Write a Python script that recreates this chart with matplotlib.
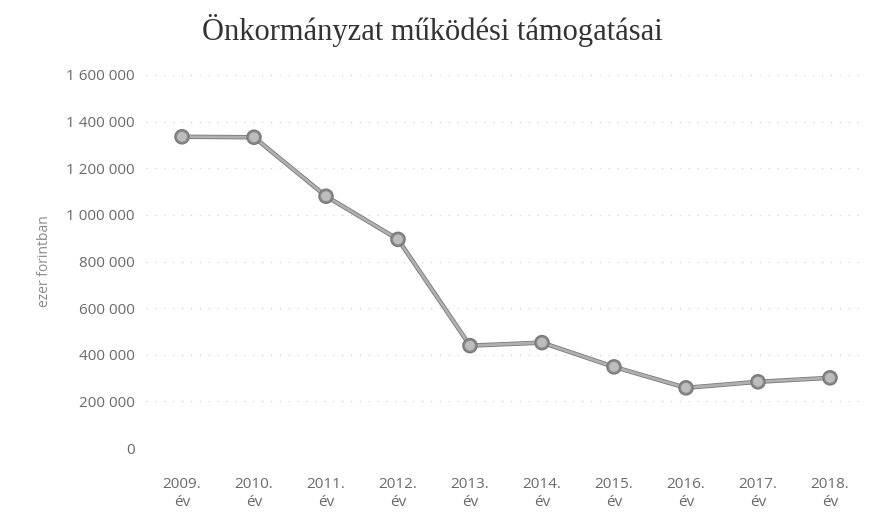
import numpy as np
import matplotlib.pyplot as plt
import matplotlib.patheffects as pe

# data
years = ["2009.", "2010.", "2011.", "2012.", "2013.", "2014.", "2015.", "2016.", "2017.", "2018."]
values = [1335000, 1333000, 1080000, 895000, 439000, 452000, 348000, 258000, 284000, 301000]
y_ticks = [0, 200000, 400000, 600000, 800000, 1000000, 1200000, 1400000, 1600000]

title = "Önkormányzat működési támogatásai"
y_label = "ezer forintban"


def fmt(v):
    # hungarian style thousands separator (space)
    return "{:,}".format(v).replace(",", " ")


fig = plt.figure(figsize=(8.92, 5.14), dpi=100)
ax = fig.add_axes([146 / 892, 66 / 514, 720 / 892, 373 / 514])

x = np.arange(len(years))
ax.plot(x, values, color="#b0b0b0", lw=2.0, marker="o", markersize=8,
        markerfacecolor="#bdbdbd", markeredgecolor="#8c8c8c", markeredgewidth=1.0,
        path_effects=[pe.Stroke(linewidth=3.2, foreground="#7a7a7a"), pe.Normal()],
        zorder=3)

ax.set_xlim(-0.5, len(years) - 0.5)
ax.set_ylim(0, 1600000)
ax.set_xticks(x)
ax.set_xticklabels([y + "\név" for y in years], fontsize=11, color="#6a6a6a",
                   family="Open Sans", linespacing=1.25)
ax.set_yticks(y_ticks)
ax.set_yticklabels([fmt(v) for v in y_ticks], fontsize=11, color="#6a6a6a",
                   family="Open Sans")
ax.tick_params(length=0, pad=8)
ax.tick_params(axis="x", pad=21)

# faint dotted gridlines
ax.grid(axis="y", color="#c8c8c8", linestyle=(0, (1, 7)), linewidth=0.8)
for s in ax.spines.values():
    s.set_visible(False)

ax.set_ylabel(y_label, fontsize=10, color="#8a8a8a", family="Open Sans", labelpad=10)
fig.text(0.485, 0.94, title, ha="center", va="center", fontsize=22,
         family="Liberation Serif", color="#333333")

fig.savefig("out.png", dpi=100)
